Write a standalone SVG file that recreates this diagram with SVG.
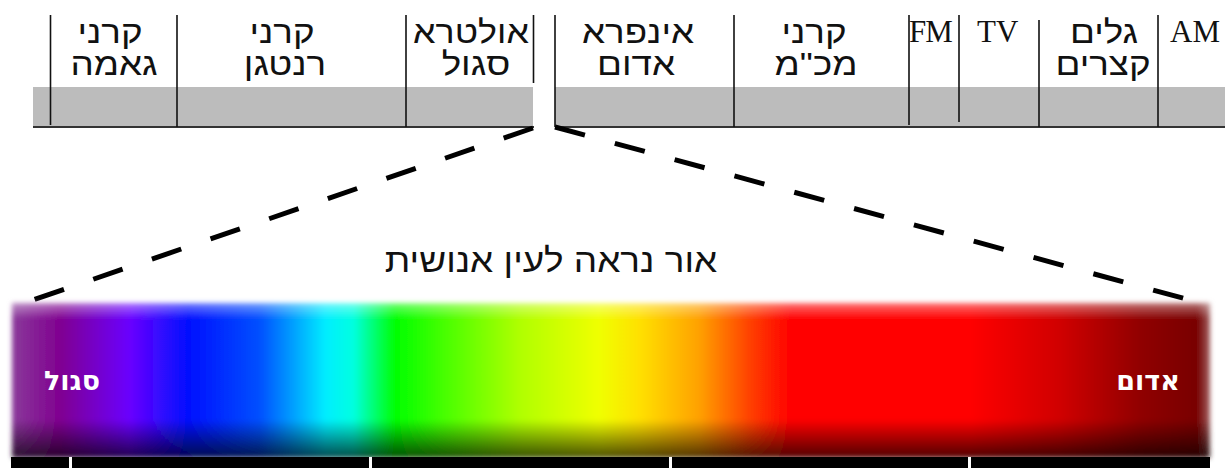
<svg xmlns="http://www.w3.org/2000/svg" width="1228" height="468" viewBox="0 0 1228 468">
<style>
.heb{font-family:"Liberation Sans","DejaVu Sans",sans-serif;font-size:32px;fill:#111;text-anchor:middle}
.ttl{font-size:33px}
.lat{font-family:"Liberation Serif","DejaVu Serif",serif;font-size:31px;fill:#111;text-anchor:start}
.vl{stroke:#111;stroke-width:1.6}
.base{stroke:#333;stroke-width:2}
.dash{stroke:#000;stroke-width:5;stroke-dasharray:31 31;fill:none}
.lbl{font-family:"DejaVu Sans","Liberation Sans",sans-serif;font-weight:bold;font-size:27px;fill:#fff;text-anchor:middle}
.tick{fill:#fff}
</style>
<defs>
<linearGradient id="spec" x1="12" y1="0" x2="1210" y2="0" gradientUnits="userSpaceOnUse">
<stop offset="0" stop-color="#8a3a9a"/>
<stop offset="0.04" stop-color="#800090"/>
<stop offset="0.098" stop-color="#6a00ff"/>
<stop offset="0.148" stop-color="#0010ff"/>
<stop offset="0.207" stop-color="#0050ff"/>
<stop offset="0.262" stop-color="#00eeff"/>
<stop offset="0.285" stop-color="#00ffe0"/>
<stop offset="0.32" stop-color="#00ff00"/>
<stop offset="0.366" stop-color="#50ff00"/>
<stop offset="0.424" stop-color="#b0ff00"/>
<stop offset="0.49" stop-color="#f0ff00"/>
<stop offset="0.524" stop-color="#ffe000"/>
<stop offset="0.574" stop-color="#ffa000"/>
<stop offset="0.616" stop-color="#ff4000"/>
<stop offset="0.65" stop-color="#ff0000"/>
<stop offset="0.8" stop-color="#ff0000"/>
<stop offset="0.875" stop-color="#d00000"/>
<stop offset="0.942" stop-color="#900000"/>
<stop offset="0.99" stop-color="#780000"/>
<stop offset="1" stop-color="#a06060"/>
</linearGradient>
<linearGradient id="shade" x1="0" y1="303" x2="0" y2="458" gradientUnits="userSpaceOnUse">
<stop offset="0" stop-color="#fff" stop-opacity="0.45"/>
<stop offset="0.1" stop-color="#fff" stop-opacity="0"/>
<stop offset="0.75" stop-color="#000" stop-opacity="0"/>
<stop offset="1" stop-color="#000" stop-opacity="0.7"/>
</linearGradient>
<filter id="soft" x="-2%" y="-10%" width="104%" height="120%">
<feGaussianBlur stdDeviation="2.5"/>
</filter>
</defs>
<rect width="1228" height="468" fill="#fff"/>

<g id="em-scale">
<rect x="33" y="87" width="500" height="40" fill="#bcbcbc"/>
<rect x="555" y="87" width="670" height="40" fill="#bcbcbc"/>
<line class="base" x1="33" y1="127" x2="534" y2="127"/>
<line class="base" x1="555" y1="127" x2="1225" y2="127"/>
<line class="vl" x1="50.5" y1="15" x2="50.5" y2="125"/>
<line class="vl" x1="177" y1="15" x2="177" y2="127"/>
<line class="vl" x1="406" y1="15" x2="406" y2="127"/>
<line class="vl" x1="533.5" y1="15" x2="533.5" y2="83"/>
<line class="vl" x1="555" y1="15" x2="555" y2="127"/>
<line class="vl" x1="734" y1="15" x2="734" y2="127"/>
<line class="vl" x1="909" y1="15" x2="909" y2="125"/>
<line class="vl" x1="959" y1="15" x2="959" y2="122"/>
<line class="vl" x1="1039" y1="20" x2="1039" y2="127"/>
<line class="vl" x1="1158" y1="15" x2="1158" y2="127"/>
</g>

<g id="gamma"><text class="heb" transform="translate(110,43) scale(1.15,1)">קרני</text><text class="heb" transform="translate(114,75) scale(1.15,1)">גאמה</text></g>
<g id="xray"><text class="heb" transform="translate(282,43) scale(1.15,1)">קרני</text><text class="heb" transform="translate(285,75) scale(1.15,1)">רנטגן</text></g>
<g id="uv"><text class="heb" transform="translate(471,43) scale(1.12,1)">אולטרא</text><text class="heb" transform="translate(476,75) scale(1.15,1)">סגול</text></g>
<g id="ir"><text class="heb" transform="translate(638,43) scale(1.15,1)">אינפרא</text><text class="heb" transform="translate(636,75) scale(1.15,1)">אדום</text></g>
<g id="microwave"><text class="heb" transform="translate(814,43) scale(1.15,1)">קרני</text><text class="heb" transform="translate(816,75) scale(1.15,1)">מכ"מ</text></g>
<g id="fm"><text class="lat" x="909" y="42" letter-spacing="-1">FM</text></g>
<g id="tv"><text class="lat" x="977" y="42">TV</text></g>
<g id="shortwave"><text class="heb" transform="translate(1104,43) scale(1.15,1)">גלים</text><text class="heb" transform="translate(1103,75) scale(1.15,1)">קצרים</text></g>
<g id="am"><text class="lat" x="1170" y="42">AM</text></g>

<g id="connectors">
<line class="dash" x1="533" y1="128" x2="33" y2="300"/>
<line class="dash" x1="555" y1="127" x2="1186" y2="299"/>
</g>

<g id="visible-title"><text class="heb ttl" transform="translate(551,272) scale(1.12,1)">אור נראה לעין אנושית</text></g>

<g id="spectrum">
<g filter="url(#soft)">
<rect x="12" y="303" width="1198" height="155" fill="url(#spec)"/>
<rect x="12" y="303" width="1198" height="155" fill="url(#shade)"/>
</g>
<rect x="11" y="457" width="1199" height="11" fill="#000"/>
<rect class="tick" x="69" y="457" width="3" height="11"/>
<rect class="tick" x="369" y="457" width="3" height="11"/>
<rect class="tick" x="669" y="457" width="3" height="11"/>
<rect class="tick" x="968" y="457" width="3" height="11"/>
<text class="lbl" x="72" y="390">סגול</text>
<text class="lbl" x="1148" y="390">אדום</text>
</g>
</svg>
